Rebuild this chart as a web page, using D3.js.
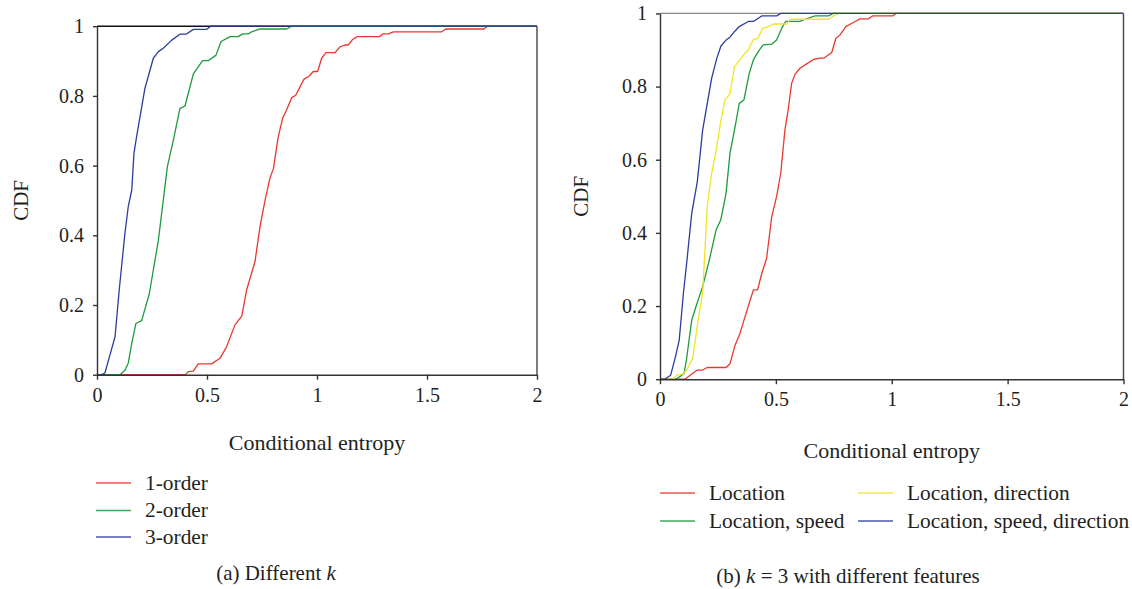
<!DOCTYPE html>
<html>
<head>
<meta charset="utf-8">
<script src="https://cdn.jsdelivr.net/npm/d3@7"></script>
<style>
  body { margin: 0; background: #fff; }
  svg text { font-family: "Liberation Serif", "DejaVu Serif", serif; fill: #231f20; }
  .line { fill: none; stroke-width: 1.3px; stroke-linejoin: round; }
  .axis path, .axis line { stroke: #333; stroke-width: 1.4px; }
</style>
</head>
<body>
<div id="chart"></div>
<script>
"use strict";

// tick values (shared by both panels)
var xTicks = [0, 0.5, 1, 1.5, 2];
var yTicks = [0, 0.2, 0.4, 0.6, 0.8, 1];

// (a) different k -- [conditional entropy, CDF]
var order1 = [[0,0],[0.403,0],[0.415,0.009],[0.438,0.01],[0.46,0.031],[0.521,0.031],[0.559,0.047],[0.589,0.08],
    [0.627,0.143],[0.658,0.168],[0.68,0.243],[0.718,0.324],[0.741,0.425],[0.764,0.501],[0.786,0.564],[0.802,0.592],
    [0.824,0.683],[0.844,0.736],[0.862,0.76],[0.885,0.795],[0.903,0.802],[0.941,0.848],[0.965,0.857],[0.983,0.87],
    [1.003,0.87],[1.021,0.908],[1.041,0.924],[1.082,0.924],[1.105,0.941],[1.127,0.946],[1.142,0.946],[1.162,0.962],
    [1.183,0.97],[1.283,0.97],[1.301,0.978],[1.324,0.978],[1.347,0.984],[1.567,0.984],[1.585,0.992],[1.759,0.992],
    [1.774,1],[2,1]];
var order2 = [[0,0],[0.105,0],[0.127,0.013],[0.142,0.033],[0.158,0.09],[0.177,0.147],[0.203,0.155],[0.238,0.233],
    [0.279,0.386],[0.32,0.597],[0.347,0.673],[0.377,0.764],[0.4,0.771],[0.438,0.863],[0.48,0.901],[0.506,0.901],
    [0.541,0.917],[0.564,0.956],[0.605,0.97],[0.642,0.97],[0.662,0.978],[0.688,0.978],[0.703,0.984],[0.741,0.992],
    [0.862,0.992],[0.885,1],[2,1]];
var order3 = [[0,0],[0.02,0],[0.036,0.005],[0.059,0.057],[0.082,0.109],[0.101,0.243],[0.127,0.406],[0.142,0.482],
    [0.158,0.53],[0.168,0.635],[0.18,0.683],[0.218,0.822],[0.256,0.908],[0.279,0.927],[0.301,0.937],[0.34,0.96],
    [0.377,0.977],[0.405,0.977],[0.438,0.991],[0.499,0.991],[0.517,1],[2,1]];

// (b) k = 3 with different features
var locOnly = [[0,0],[0.108,0],[0.137,0.014],[0.161,0.025],[0.184,0.025],[0.204,0.032],[0.285,0.032],[0.302,0.042],
    [0.324,0.093],[0.345,0.125],[0.367,0.171],[0.403,0.244],[0.421,0.244],[0.439,0.289],[0.46,0.33],[0.482,0.444],
    [0.503,0.499],[0.521,0.563],[0.539,0.681],[0.553,0.736],[0.568,0.809],[0.583,0.834],[0.604,0.85],[0.633,0.862],
    [0.662,0.874],[0.69,0.878],[0.708,0.878],[0.741,0.893],[0.759,0.932],[0.777,0.941],[0.802,0.964],[0.834,0.975],
    [0.863,0.985],[0.899,0.985],[0.917,0.993],[1.004,0.993],[1.018,1],[2,1]];
var locSpeed = [[0,0],[0.067,0],[0.086,0.007],[0.104,0.016],[0.115,0.057],[0.137,0.162],[0.155,0.198],[0.184,0.253],
    [0.213,0.326],[0.242,0.408],[0.262,0.435],[0.285,0.508],[0.302,0.618],[0.324,0.69],[0.342,0.754],[0.362,0.763],
    [0.385,0.836],[0.403,0.873],[0.423,0.895],[0.445,0.914],[0.482,0.916],[0.503,0.927],[0.525,0.959],[0.542,0.978],
    [0.604,0.978],[0.626,0.984],[0.669,0.993],[0.726,0.993],[0.748,1],[2,1]];
var locDir = [[0,0],[0.057,0],[0.072,0.011],[0.098,0.014],[0.115,0.025],[0.141,0.057],[0.165,0.162],[0.184,0.235],
    [0.204,0.472],[0.223,0.563],[0.245,0.636],[0.262,0.704],[0.28,0.763],[0.302,0.78],[0.321,0.854],[0.36,0.886],
    [0.381,0.9],[0.403,0.929],[0.423,0.932],[0.443,0.959],[0.46,0.962],[0.489,0.971],[0.547,0.971],[0.561,0.984],
    [0.726,0.984],[0.748,0.993],[0.769,1],[2,1]];
var locSpeedDir = [[0,0],[0.02,0],[0.046,0.011],[0.065,0.057],[0.083,0.107],[0.101,0.235],[0.115,0.317],[0.137,0.454],
    [0.161,0.54],[0.184,0.681],[0.204,0.754],[0.223,0.823],[0.245,0.877],[0.263,0.911],[0.285,0.927],[0.302,0.935],
    [0.321,0.95],[0.342,0.964],[0.381,0.978],[0.403,0.978],[0.439,0.993],[0.503,0.993],[0.521,1],[2,1]];

var red = "#e8392e", green = "#1f9b3c", blue = "#2c3d9e", yellow = "#f0e426";

var svg = d3.select("#chart").append("svg")
    .attr("width", 1132)
    .attr("height", 589);

function drawPanel(p) {
    var x = d3.scaleLinear().domain([0, 2]).range([p.left, p.right]);
    var y = d3.scaleLinear().domain([0, 1]).range([p.bottom, p.top]);

    var g = svg.append("g");

    // frame (top and right edges)
    g.append("line")
        .attr("x1", x(0)).attr("x2", x(2))
        .attr("y1", y(1)).attr("y2", y(1))
        .style("stroke", p.topColor).style("stroke-width", 1.4);
    g.append("line")
        .attr("x1", x(2)).attr("x2", x(2))
        .attr("y1", y(1)).attr("y2", y(0))
        .style("stroke", "#444").style("stroke-width", 1.4);

    // the CDF lines
    var valueline = d3.line()
        .x(function (d) { return x(d[0]); })
        .y(function (d) { return y(d[1]); });

    p.series.forEach(function (s) {
        g.append("path")
            .data([s.values])
            .attr("class", "line")
            .style("stroke", s.color)
            .attr("d", valueline);
    });

    // x axis
    var xAxis = g.append("g")
        .attr("class", "axis")
        .attr("transform", "translate(0," + y(0) + ")")
        .call(d3.axisBottom(x).tickValues(xTicks).tickSize(5).tickPadding(8).tickSizeOuter(0)
            .tickFormat(d3.format("~g")));
    xAxis.selectAll("text").style("font-size", "20px");

    // y axis
    var yAxis = g.append("g")
        .attr("class", "axis")
        .attr("transform", "translate(" + x(0) + ",0)")
        .call(d3.axisLeft(y).tickValues(yTicks).tickSize(4).tickPadding(9).tickSizeOuter(0)
            .tickFormat(d3.format("~g")));
    yAxis.selectAll("text").style("font-size", "20px");

    // axis titles
    g.append("text")
        .attr("transform", "translate(" + p.cdfX + "," + ((y(0) + y(1)) / 2) + ") rotate(-90)")
        .attr("text-anchor", "middle")
        .attr("dy", "0.35em")
        .style("font-size", "21px")
        .text("CDF");

    g.append("text")
        .attr("x", (x(0) + x(2)) / 2)
        .attr("y", p.xTitleY)
        .attr("text-anchor", "middle")
        .style("font-size", "22px")
        .text("Conditional entropy");

    // legend
    p.series.forEach(function (s) {
        var lx = s.legend[0], ly = s.legend[1];
        g.append("line")
            .attr("x1", lx).attr("x2", lx + 35)
            .attr("y1", ly).attr("y2", ly)
            .style("stroke", s.color).style("stroke-width", 1.5).style("opacity", 0.85);
        g.append("text")
            .attr("x", lx + 49)
            .attr("y", ly)
            .attr("dy", "0.32em")
            .style("font-size", "21.4px")
            .text(s.name);
    });

    // caption
    var cap = g.append("text")
        .attr("x", p.capX)
        .attr("y", p.capY)
        .attr("text-anchor", "middle")
        .style("font-size", "21px");
    p.caption.forEach(function (c) {
        cap.append("tspan").style("font-style", c[1] ? "italic" : "normal").text(c[0]);
    });
}

// (a) Different k
drawPanel({
    left: 97, right: 537, top: 26.2, bottom: 374.7,
    topColor: "#111", cdfX: 21, xTitleY: 450,
    capX: 276, capY: 580,
    caption: [["(a) Different ", false], ["k", true]],
    series: [
        { name: "1-order", values: order1, color: red, legend: [96, 483] },
        { name: "2-order", values: order2, color: green, legend: [96, 510.5] },
        { name: "3-order", values: order3, color: blue, legend: [96, 537] }
    ]
});

// (b) k = 3 with different features
drawPanel({
    left: 660, right: 1123.5, top: 13.4, bottom: 379.2,
    topColor: "#888", cdfX: 581, xTitleY: 458,
    capX: 848, capY: 583,
    caption: [["(b) ", false], ["k", true], [" = 3 with different features", false]],
    series: [
        { name: "Location", values: locOnly, color: red, legend: [660, 493] },
        { name: "Location, speed", values: locSpeed, color: green, legend: [660, 521] },
        { name: "Location, direction", values: locDir, color: yellow, legend: [858, 493] },
        { name: "Location, speed, direction", values: locSpeedDir, color: blue, legend: [858, 521] }
    ]
});
</script>
</body>
</html>
